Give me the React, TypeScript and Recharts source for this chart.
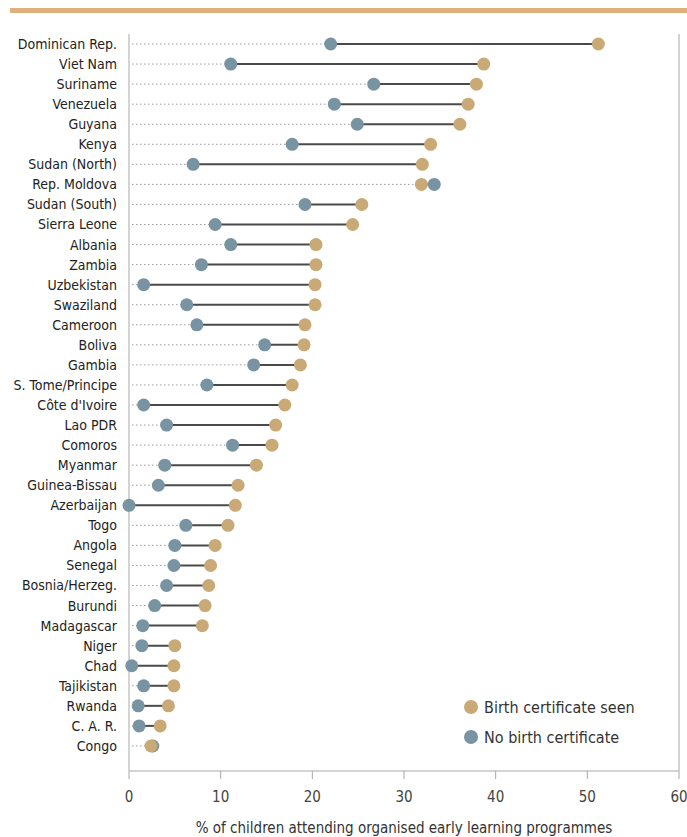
import { Bar, ComposedChart, Legend, Line, ReferenceLine, XAxis, YAxis } from "recharts";

const countries = [
  "Dominican Rep.", "Viet Nam", "Suriname", "Venezuela", "Guyana", "Kenya",
  "Sudan (North)", "Rep. Moldova", "Sudan (South)", "Sierra Leone", "Albania", "Zambia",
  "Uzbekistan", "Swaziland", "Cameroon", "Boliva", "Gambia", "S. Tome/Principe",
  "Côte d'Ivoire", "Lao PDR", "Comoros", "Myanmar", "Guinea-Bissau", "Azerbaijan",
  "Togo", "Angola", "Senegal", "Bosnia/Herzeg.", "Burundi", "Madagascar",
  "Niger", "Chad", "Tajikistan", "Rwanda", "C. A. R.", "Congo",
];

// % attending early learning, birth certificate seen
const seen = [
  51.2, 38.7, 37.9, 37.0, 36.1, 32.9,
  32.0, 31.9, 25.4, 24.4, 20.4, 20.4,
  20.3, 20.3, 19.2, 19.1, 18.7, 17.8,
  17.0, 16.0, 15.6, 13.9, 11.9, 11.6,
  10.8, 9.4, 8.9, 8.7, 8.3, 8.0,
  5.0, 4.9, 4.9, 4.3, 3.4, 2.4,
];

// % attending early learning, no birth certificate
const noCert = [
  22.0, 11.1, 26.7, 22.4, 24.9, 17.8,
  7.0, 33.3, 19.2, 9.4, 11.1, 7.9,
  1.6, 6.3, 7.4, 14.8, 13.6, 8.5,
  1.6, 4.1, 11.3, 3.9, 3.2, 0.0,
  6.2, 5.0, 4.9, 4.1, 2.8, 1.5,
  1.4, 0.3, 1.6, 1.0, 1.1, 2.6,
];

const xTicks = [0, 10, 20, 30, 40, 50, 60];

const TAN = "#C9A975";
const BLUE = "#7893A2";
const FONT = '"Liberation Sans Narrow", "DejaVu Sans Condensed", "Roboto", sans-serif';

const data = countries.map((country, i) => {
  const lo = Math.min(seen[i], noCert[i]);
  const hi = Math.max(seen[i], noCert[i]);
  return { country, seen: seen[i], noCert: noCert[i], lo, gap: hi - lo };
});

function DottedShape(props: any) {
  const { x, y, width, height } = props;
  const cy = y + height / 2;
  if (!width || width <= 0) return null;
  return <line x1={x + 3} y1={cy} x2={x + width} y2={cy} stroke="#9a9a9a" strokeWidth={1} strokeDasharray="1.5 2.5" />;
}

function SolidShape(props: any) {
  const { x, y, width, height } = props;
  const cy = y + height / 2;
  return <line x1={x} y1={cy} x2={x + width} y2={cy} stroke="#4a4a4a" strokeWidth={2} />;
}

function LegendBox() {
  const items = [
    { label: "Birth certificate seen", color: TAN },
    { label: "No birth certificate", color: BLUE },
  ];
  return (
    <div style={{ fontFamily: FONT, fontSize: 16, color: "#333" }}>
      {items.map((it) => (
        <div key={it.label} style={{ display: "flex", alignItems: "center", height: 30 }}>
          <svg width={16} height={16} style={{ marginRight: 5 }}>
            <circle cx={8} cy={8} r={7} fill={it.color} />
          </svg>
          <span>{it.label}</span>
        </div>
      ))}
    </div>
  );
}

export default function App() {
  return (
    <div style={{ position: "relative", width: 687, height: 837, background: "#fff", overflow: "hidden" }}>
      <style>{"body{margin:0;overflow:hidden}"}</style>
      <div style={{ position: "absolute", left: 10, top: 8, width: 677, height: 5, background: "#DFB07C" }} />
      <ComposedChart
        width={687}
        height={837}
        data={data}
        layout="vertical"
        margin={{ top: 34, right: 8, bottom: 0, left: 0 }}
        barCategoryGap={0}
      >
        <XAxis
          type="number"
          domain={[0, 60]}
          ticks={xTicks}
          height={66}
          tickSize={8}
          tickMargin={12}
          stroke="#a8a8a8"
          tick={{ fontFamily: FONT, fontSize: 15, fill: "#444" }}
          label={{
            value: "% of children attending organised early learning programmes",
            position: "insideBottom",
            offset: 4,
            style: { fontFamily: FONT, fontSize: 15, fill: "#333" },
          }}
        />
        <YAxis
          type="category"
          dataKey="country"
          width={129}
          padding={{ top: 0, bottom: 15 }}
          tickLine={false}
          tickMargin={6}
          stroke="#a8a8a8"
          interval={0}
          tick={{ fontFamily: FONT, fontSize: 14, fill: "#222" }}
        />
        <ReferenceLine x={60} stroke="#a8a8a8" strokeWidth={1} />
        <Bar dataKey="lo" stackId="d" barSize={10} shape={<DottedShape />} isAnimationActive={false} legendType="none" />
        <Bar dataKey="gap" stackId="d" barSize={10} shape={<SolidShape />} isAnimationActive={false} legendType="none" />
        <Line
          dataKey="noCert"
          name="No birth certificate"
          stroke="none"
          dot={{ r: 6.5, fill: BLUE, stroke: "none" }}
          activeDot={false}
          isAnimationActive={false}
        />
        <Line
          dataKey="seen"
          name="Birth certificate seen"
          stroke="none"
          dot={{ r: 6.5, fill: TAN, stroke: "none" }}
          activeDot={false}
          isAnimationActive={false}
        />
        <Legend
          layout="vertical"
          align="center"
          verticalAlign="middle"
          content={<LegendBox />}
          wrapperStyle={{ left: 463, top: 692, width: 200, height: 60 }}
        />
      </ComposedChart>
    </div>
  );
}
